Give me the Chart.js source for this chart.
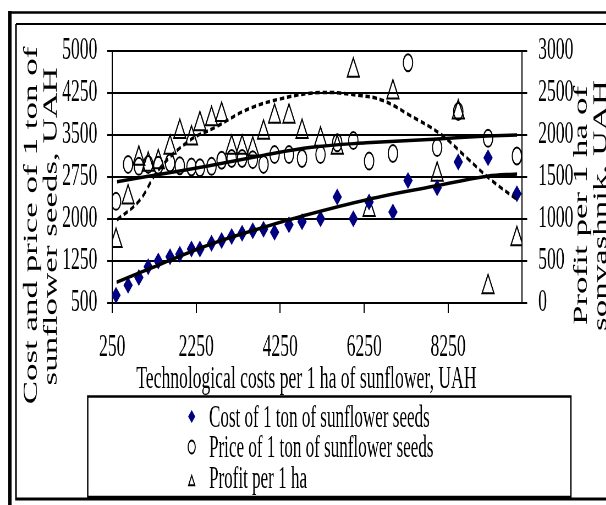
<!DOCTYPE html>
<html>
<head>
<meta charset="utf-8">
<script src="https://cdn.jsdelivr.net/npm/chart.js@4/dist/chart.umd.min.js"></script>
<style>
  html, body { margin: 0; padding: 0; background: #fff; overflow: hidden; width: 606px; height: 505px; }
  /* the picture is drawn wide and squeezed horizontally, like the source figure */
  #wrap { width: 1102px; height: 505px; transform: scaleX(0.55); transform-origin: 0 0; }
</style>
</head>
<body>
<div id="wrap"><canvas id="chart"></canvas></div>
<script>
// technological costs per 1 ha of sunflower, UAH (shared x of all three series)
const costsPerHa = [341, 628, 884, 1107, 1347, 1627, 1859, 2137, 2338, 2615, 2855, 3094, 3343, 3597,
  3853, 4116, 4459, 4770, 5210, 5608, 5991, 6367, 6934, 7293, 7987, 8490, 9199, 9886];
const costPerTon = [638, 818, 956, 1147, 1249, 1327, 1370, 1465, 1465, 1567, 1614, 1686, 1747, 1788,
  1819, 1765, 1896, 1950, 2004, 2394, 2004, 2304, 2124, 2687, 2556, 3016, 3095, 2453];
const pricePerTon = [2315, 2975, 2940, 2975, 2960, 3000, 2950, 2930, 2915, 2940, 3050, 3080, 3080, 3060,
  2975, 3150, 3150, 3080, 3150, 3360, 3400, 3034, 3170, 4790, 3275, 3920, 3440, 3125];
const profitPerHa = [740, 1260, 1720, 1650, 1680, 1850, 2040, 1960, 2130, 2190, 2240, 1850, 1850, 1830,
  2030, 2220, 2220, 2040, 1945, 1850, 2767, 1110, 2508, null, 1530, 2270, 190, 763];

// trend lines
const costTrendX = [355, 1360, 2560, 3760, 4760, 6310, 7900, 9180, 9890];
const costTrendY = [870, 1180, 1540, 1830, 2050, 2345, 2585, 2765, 2805];
const priceTrendX = [365, 1360, 2560, 3800, 5000, 6300, 7900, 9180, 9890];
const priceTrendY = [2665, 2795, 2950, 3130, 3280, 3360, 3425, 3480, 3500];
const profitTrendX = [365, 900, 1360, 2080, 2700, 3450, 4250, 5200, 6150, 6700, 7350, 8070, 8710, 9260, 9890];
const profitTrendY = [990, 1220, 1590, 1930, 2090, 2300, 2430, 2505, 2470, 2410, 2230, 2010, 1720, 1470, 1230];

// ticks
const xTicks = [250, 2250, 4250, 6250, 8250];
const leftTicks = [500, 1250, 2000, 2750, 3500, 4250, 5000];
const rightTicks = [0, 500, 1000, 1500, 2000, 2500, 3000];

// texts
const seriesNames = ['Cost of 1 ton of sunflower seeds', 'Price of 1 ton of sunflower seeds', 'Profit per 1 ha'];
const xTitle = 'Technological costs per 1 ha of sunflower, UAH';
const leftTitle = ['Cost and price of 1 ton of', 'sunflower seeds, UAH'];
const rightTitle = ['Profit per 1 ha of', 'sonvashnik, UAH'];

const FONT = '"Liberation Serif", "Times New Roman", serif';
const NAVY = '#000080';

const pts = (xs, ys) => xs.map((x, i) => ({ x: x, y: ys[i] }));
const plain = v => String(v);

// frames, axis titles and the boxed legend
const decorations = {
  id: 'decorations',
  beforeDraw(chart) {
    const ctx = chart.ctx, W = chart.width;
    ctx.save();
    ctx.strokeStyle = '#000';
    ctx.lineWidth = 2.5;
    ctx.beginPath(); ctx.moveTo(18, 12.5); ctx.lineTo(W, 12.5); ctx.stroke();
    ctx.lineWidth = 6;
    ctx.beginPath(); ctx.moveTo(18, 11); ctx.lineTo(18, 505); ctx.stroke();
    ctx.lineWidth = 1.8;
    ctx.beginPath(); ctx.moveTo(W, 24); ctx.lineTo(29, 24); ctx.stroke();
    ctx.lineWidth = 3;
    ctx.beginPath(); ctx.moveTo(29, 24); ctx.lineTo(29, 499); ctx.lineTo(W, 499); ctx.stroke();
    ctx.restore();
  },
  afterDraw(chart) {
    const ctx = chart.ctx;
    ctx.save();
    ctx.fillStyle = '#000';
    ctx.textAlign = 'center';
    ctx.textBaseline = 'alphabetic';
    const rot = (txt, x, y) => {
      ctx.save(); ctx.translate(x, y); ctx.rotate(-Math.PI / 2); ctx.fillText(txt, 0, 0); ctx.restore();
    };
    ctx.font = '35px ' + FONT;
    rot(leftTitle[0], 66.5, 225.5);
    rot(leftTitle[1], 103, 226.5);
    rot(rightTitle[0], 1066.5, 205.5);
    rot(rightTitle[1], 1103, 205.5);
    ctx.font = '32px ' + FONT;
    ctx.fillText(xTitle, 557, 388);

    // legend box
    ctx.strokeStyle = '#000';
    ctx.lineWidth = 2.5;
    ctx.strokeRect(159.5, 396.5, 878.5, 100.5);
    const rowsY = [426.5, 457, 487.5];
    const markY = [416.5, 447, 482];
    const ds = chart.data.datasets;
    ctx.textAlign = 'left';
    ctx.font = '31px ' + FONT;
    for (let i = 0; i < 3; i++) {
      const d = ds[i];
      ctx.fillStyle = d.backgroundColor;
      ctx.strokeStyle = d.borderColor;
      ctx.lineWidth = 1.8;
      Chart.helpers.drawPoint(ctx, {
        pointStyle: d.pointStyle, rotation: 0,
        radius: 6.5, borderWidth: i === 0 ? 0 : 1.8
      }, 348.5, markY[i]);
      ctx.fillStyle = '#000';
      ctx.fillText(seriesNames[i], 380, rowsY[i]);
    }
    ctx.restore();
  }
};

new Chart(document.getElementById('chart'), {
  type: 'scatter',
  data: {
    datasets: [
      {
        label: seriesNames[0], data: pts(costsPerHa, costPerTon), yAxisID: 'y',
        pointStyle: 'rectRot', pointRadius: 8.5, backgroundColor: NAVY, borderColor: NAVY,
        pointBorderWidth: 0, order: 2
      },
      {
        label: seriesNames[1], data: pts(costsPerHa, pricePerTon), yAxisID: 'y',
        pointStyle: 'circle', pointRadius: 8.5, backgroundColor: 'rgba(0,0,0,0)', borderColor: '#000',
        pointBorderWidth: 2, order: 3
      },
      {
        label: seriesNames[2], data: pts(costsPerHa, profitPerHa), yAxisID: 'y2',
        pointStyle: 'triangle', pointRadius: 12.5, backgroundColor: 'rgba(0,0,0,0)', borderColor: '#000',
        pointBorderWidth: 2, order: 4
      },
      {
        label: 'cost trend', data: pts(costTrendX, costTrendY), yAxisID: 'y', showLine: true,
        borderColor: '#000', borderWidth: 3.5, pointRadius: 0, tension: 0.4, order: 1
      },
      {
        label: 'price trend', data: pts(priceTrendX, priceTrendY), yAxisID: 'y', showLine: true,
        borderColor: '#000', borderWidth: 3.5, pointRadius: 0, tension: 0.4, order: 1
      },
      {
        label: 'profit trend', data: pts(profitTrendX, profitTrendY), yAxisID: 'y2', showLine: true,
        borderColor: '#000', borderWidth: 3.5, borderDash: [8, 5], pointRadius: 0, tension: 0.4, order: 1
      }
    ]
  },
  options: {
    responsive: true,
    maintainAspectRatio: false,
    animation: false,
    events: [],
    layout: { padding: { top: 51, left: 0, right: 0, bottom: 0 } },
    plugins: { legend: { display: false }, tooltip: { enabled: false } },
    scales: {
      x: {
        type: 'linear', min: 250, max: 10000,
        afterBuildTicks: s => { s.ticks = xTicks.map(v => ({ value: v })); },
        afterFit: s => { s.height = 202; },
        ticks: { callback: plain, color: '#000', font: { family: FONT, size: 32, lineHeight: 1 }, padding: 18.5, maxRotation: 0, autoSkip: false },
        grid: { drawOnChartArea: false, drawTicks: true, tickLength: 10, color: '#000', lineWidth: 2 },
        border: { display: true, color: '#000', width: 2 }
      },
      y: {
        position: 'left', min: 500, max: 5000,
        afterBuildTicks: s => { s.ticks = leftTicks.map(v => ({ value: v })); },
        afterFit: s => { s.width = 204; },
        ticks: { callback: plain, color: '#000', font: { family: FONT, size: 32, lineHeight: 1 }, padding: 18 },
        grid: { color: '#000', lineWidth: 2, tickLength: 9 },
        border: { display: true, color: '#000', width: 2 }
      },
      y2: {
        position: 'right', min: 0, max: 3000,
        afterBuildTicks: s => { s.ticks = rightTicks.map(v => ({ value: v })); },
        afterFit: s => { s.width = 153.5; },
        ticks: { callback: plain, color: '#000', font: { family: FONT, size: 32, lineHeight: 1 }, padding: 20 },
        grid: { drawOnChartArea: false, color: '#000', lineWidth: 2, tickLength: 10 },
        border: { display: true, color: '#000', width: 2 }
      }
    }
  },
  plugins: [decorations]
});
</script>
</body>
</html>
